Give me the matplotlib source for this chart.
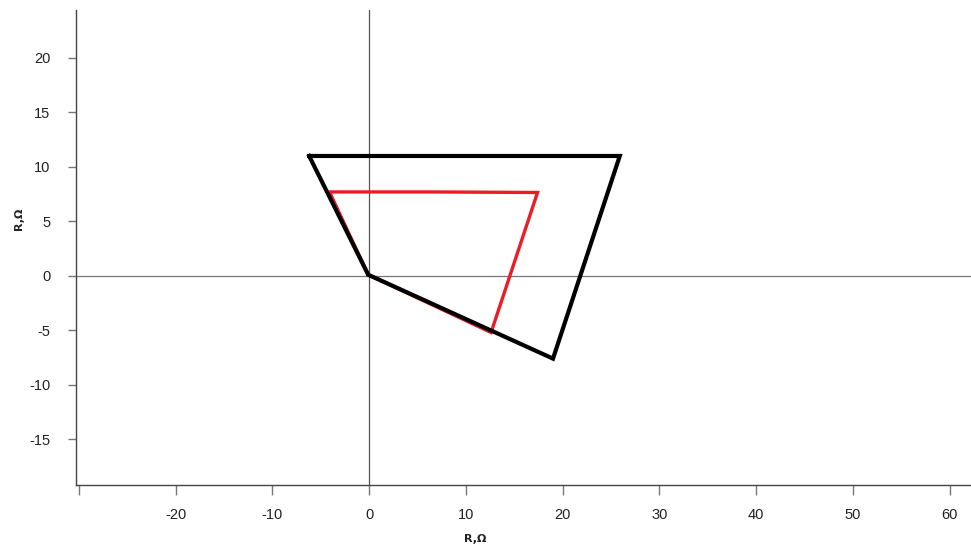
import matplotlib.pyplot as plt

plt.rcParams['font.family'] = ['Liberation Sans', 'DejaVu Sans']

# outer (black) polygon vertices, R / X in ohm
outer_x = [-6.2, 25.9, 19.0, -0.1, -6.2]
outer_y = [11.0, 11.0, -7.6, 0.1, 11.0]

# inner (red) polygon vertices
inner_x = [-0.1, -4.1, 6.5, 17.4, 12.6, -0.1]
inner_y = [0.1, 7.7, 7.7, 7.65, -5.2, 0.1]

x_ticks = [-30, -20, -10, 0, 10, 20, 30, 40, 50, 60]
x_labels = ['', '-20', '-10', '0', '10', '20', '30', '40', '50', '60']
y_ticks = [-15, -10, -5, 0, 5, 10, 15, 20]
y_labels = ['-15', '-10', '-5', '0', '5', '10', '15', '20']

fig = plt.figure(figsize=(9.71, 5.47), dpi=100)
ax = fig.add_axes([75.5 / 971, 1 - 485 / 547, 1 - 75.5 / 971, (485 - 10) / 547])

ax.axhline(0, color='#777777', lw=0.9, zorder=1)
ax.axvline(0, color='#555555', lw=0.9, zorder=1)

ax.plot(inner_x, inner_y, color='#ec1c24', lw=2.4, zorder=2, solid_joinstyle='miter')
ax.plot(outer_x, outer_y, color='black', lw=3.0, zorder=3, solid_joinstyle='miter')

ax.set_xlim(-30.35, 62.2)
ax.set_ylim(-19.2, 24.4)

for s in ['top', 'right']:
    ax.spines[s].set_visible(False)
for s in ['left', 'bottom']:
    ax.spines[s].set_color('#444444')
    ax.spines[s].set_linewidth(1.0)

ax.set_xticks(x_ticks)
ax.set_xticklabels(x_labels)
ax.set_yticks(y_ticks)
ax.set_yticklabels(y_labels)
ax.tick_params(axis='x', direction='out', length=7.5, width=1, color='#777777',
               pad=9, labelsize=10.5, labelcolor='#222222')
ax.tick_params(axis='y', direction='out', length=6, width=1, color='#777777',
               pad=12, labelsize=10.5, labelcolor='#222222')

fig.text(475 / 971, 1 - 539 / 547, 'R,Ω', ha='center', va='center',
         fontsize=8, fontweight='bold', color='#222222', family='DejaVu Sans')
fig.text(19 / 971, 1 - 219 / 547, 'R,Ω', ha='center', va='center', rotation=90,
         fontsize=8, fontweight='bold', color='#222222', family='DejaVu Sans')

fig.savefig('out.png', dpi=100)
